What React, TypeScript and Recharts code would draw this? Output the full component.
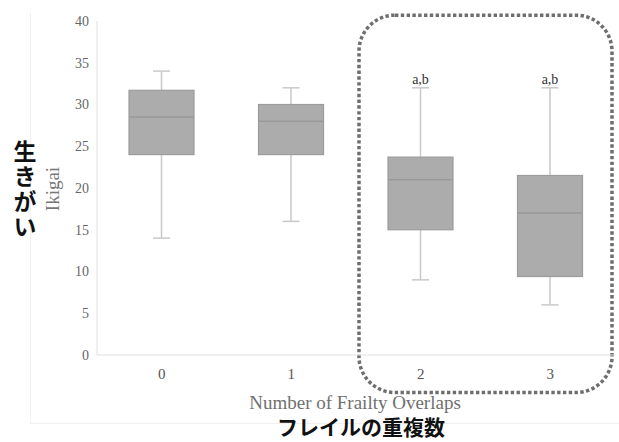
import React from 'react';
import { ComposedChart, Bar, XAxis, YAxis, ReferenceArea } from 'recharts';

// values
const groups = ['0', '1', '2', '3'];
const mins = [14, 16, 9, 6];
const q1s = [24, 24, 15, 9.4];
const medians = [28.5, 28, 21, 17];
const q3s = [31.7, 30, 23.7, 21.5];
const maxs = [34, 32, 32, 32];
const marks = ['', '', 'a,b', 'a,b'];
const yTicks = [0, 5, 10, 15, 20, 25, 30, 35, 40];

const data = groups.map((name, i) => ({
  name,
  min: mins[i],
  q1: q1s[i],
  median: medians[i],
  q3: q3s[i],
  max: maxs[i],
  mark: marks[i],
  box: [q1s[i], q3s[i]],
}));

const serif = '"Liberation Serif", "DejaVu Serif", serif';
const jp = '"Noto Sans CJK JP", sans-serif';

const BoxShape = (props: any) => {
  const { x, y, width, height, payload } = props;
  const p = payload;
  // px per unit from the bar the library laid out
  const k = height / (p.q3 - p.q1);
  const yOf = (v: number) => y + height - (v - p.q1) * k;
  const cx = x + width / 2;
  const cap = 8.5;
  const wc = '#c9c9c9';
  return (
    <g>
      <line x1={cx} x2={cx} y1={yOf(p.max)} y2={yOf(p.q3)} stroke={wc} strokeWidth={1.5} />
      <line x1={cx} x2={cx} y1={yOf(p.q1)} y2={yOf(p.min)} stroke={wc} strokeWidth={1.5} />
      <line x1={cx - cap} x2={cx + cap} y1={yOf(p.max)} y2={yOf(p.max)} stroke={wc} strokeWidth={1.5} />
      <line x1={cx - cap} x2={cx + cap} y1={yOf(p.min)} y2={yOf(p.min)} stroke={wc} strokeWidth={1.5} />
      <rect x={x} y={y} width={width} height={height} fill="#acacac" stroke="#9c9c9c" strokeWidth={1.2} />
      <line x1={x} x2={x + width} y1={yOf(p.median)} y2={yOf(p.median)} stroke="#999" strokeWidth={1.5} />
      {p.mark ? (
        <text x={cx} y={yOf(p.max) - 4} textAnchor="middle" fontFamily={serif} fontSize={14} fill="#333">
          {p.mark}
        </text>
      ) : null}
    </g>
  );
};

const DottedFrame = (props: any) => {
  const { x, y, width, height } = props;
  return (
    <rect x={x + 3} y={y} width={width - 6} height={height} rx={36} ry={36}
      fill="none" stroke="#6e6e6e" strokeWidth={3.5} strokeDasharray="3.4 2.4" />
  );
};

export default function App() {
  return (
    <div style={{ position: 'absolute', left: 0, top: 0, width: 619, height: 442, background: '#fff', overflow: 'hidden' }}>
      <svg width={619} height={442} style={{ position: 'absolute', left: 0, top: 0 }}>
        <line x1={30.5} x2={30.5} y1={13} y2={423} stroke="#f0f0f0" />
        <line x1={30} x2={619} y1={423.5} y2={423.5} stroke="#f0f0f0" />
      </svg>
      <div style={{ position: 'absolute', left: 0, top: 0 }}>
        <ComposedChart width={619} height={442} data={data} margin={{ top: 21, right: 4, left: 0, bottom: 0 }}>
          <XAxis dataKey="name" height={87} tickLine={false} axisLine={{ stroke: '#e0e0e0' }}
            tick={{ fill: '#555', fontSize: 15, fontFamily: serif }} tickMargin={7} />
          <YAxis width={97} domain={[0, 40]} ticks={yTicks} tickLine={false} axisLine={{ stroke: '#e0e0e0' }}
            tick={{ fill: '#666', fontSize: 14, fontFamily: serif }} />
          <Bar dataKey="box" barSize={65} shape={BoxShape} isAnimationActive={false} />
          <ReferenceArea x1="2" x2="3" y1={-4.5} y2={40.7} ifOverflow="visible" shape={DottedFrame} />
        </ComposedChart>
      </div>
      <svg width={619} height={442} style={{ position: 'absolute', left: 0, top: 0, pointerEvents: 'none' }}>
        <text x={52} y={189} transform="rotate(-90 52 189)" textAnchor="middle" dominantBaseline="central"
          fontFamily={serif} fontSize={19} fill="#777">Ikigai</text>
        <text x={25} y={190} textAnchor="middle" fontFamily={jp} fontWeight={700} fontSize={23} fill="#111"
          style={{ writingMode: 'vertical-rl', textOrientation: 'upright', letterSpacing: 2 }}>生きがい</text>
        <text x={355} y={402} textAnchor="middle" dominantBaseline="central"
          fontFamily={serif} fontSize={19} fill="#707070">Number of Frailty Overlaps</text>
        <text x={361} y={426} textAnchor="middle" dominantBaseline="central"
          fontFamily={jp} fontWeight={700} fontSize={21} fill="#111">フレイルの重複数</text>
      </svg>
    </div>
  );
}
